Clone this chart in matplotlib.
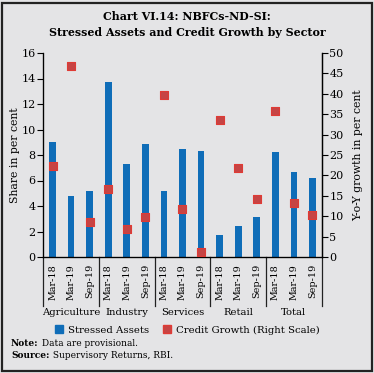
import matplotlib
matplotlib.use("Agg")
import matplotlib.pyplot as plt
from matplotlib.patches import Rectangle
from matplotlib.lines import Line2D
import numpy as np

plt.rcParams['font.family'] = ['DejaVu Serif']

sectors = ["Agriculture", "Industry", "Services", "Retail", "Total"]
periods = ["Mar-18", "Mar-19", "Sep-19"]
stressed_assets = [9.0, 4.8, 5.2, 13.75, 7.3, 8.9, 5.2, 8.45, 8.35, 1.7, 2.45, 3.1, 8.2, 6.7, 6.2]
credit_growth = [22.4, 46.8, 8.6, 16.7, 6.9, 9.7, 39.6, 11.8, 1.3, 33.7, 21.7, 14.3, 35.9, 13.3, 10.2]
left_ticks = [0, 2, 4, 6, 8, 10, 12, 14, 16]
right_ticks = [0, 5, 10, 15, 20, 25, 30, 35, 40, 45, 50]

bg = '#e4e4e6'
bar_color = '#0f6db8'
mk_face = '#c64444'
mk_edge = '#e03a34'

W, H = 374, 373
fig = plt.figure(figsize=(W/100, H/100), dpi=100, facecolor=bg)
fig.patches.append(Rectangle((0.006, 0.006), 0.988, 0.986, transform=fig.transFigure,
                             fill=False, edgecolor='#222222', linewidth=1.6))

ax = fig.add_axes([43.3/W, 1-257/H, (321.7-43.3)/W, 204/H])
ax.set_facecolor(bg)
x = np.arange(len(stressed_assets))
ax.bar(x, stressed_assets, width=0.36, color=bar_color, zorder=2)
ax.set_xlim(-0.5, len(x)-0.5)
ax.set_ylim(0, 16)
ax.set_yticks(left_ticks)
ax.set_xticks(x)
ax.set_xticklabels(periods * len(sectors), rotation=90, fontsize=6.9)
ax.tick_params(axis='x', length=0, pad=5)
ax.tick_params(axis='y', labelsize=8, length=4, width=0.8, pad=1.5)
ax.set_ylabel("Share in per cent", fontsize=7.8, labelpad=1)
ax.spines['top'].set_visible(False)
for s in ['left', 'right', 'bottom']:
    ax.spines[s].set_linewidth(0.9)

ax2 = ax.twinx()
ax2.scatter(x, credit_growth, marker='s', s=30, facecolor=mk_face, edgecolor=mk_edge,
            linewidths=0.8, zorder=3)
ax2.set_ylim(0, 50)
ax2.set_yticks(right_ticks)
ax2.tick_params(axis='y', labelsize=8, length=4, width=0.8, pad=1.5)
ax2.set_ylabel("Y-o-Y growth in per cent", fontsize=7.8, labelpad=7)
ax2.spines['top'].set_visible(False)
ax2.spines['right'].set_linewidth(0.9)

# group separators and labels
trans = matplotlib.transforms.blended_transform_factory(ax.transData, ax.transAxes)
for i in range(len(sectors) + 1):
    xp = i * 3 - 0.5
    ax.add_line(Line2D([xp, xp], [0, -0.24], transform=trans, color='#222222',
                       linewidth=0.9, clip_on=False))
for i, name in enumerate(sectors):
    ax.text(i * 3 + 1, -0.27, name, transform=trans, ha='center', va='center', fontsize=7.2)

# title
fig.text(0.5, 1-17/H, "Chart VI.14: NBFCs-ND-SI:", ha='center', va='center',
         fontsize=7.9, fontweight='bold')
fig.text(0.5, 1-33/H, "Stressed Assets and Credit Growth by Sector", ha='center', va='center',
         fontsize=7.9, fontweight='bold')

# legend
handles = [Line2D([], [], linestyle='none', marker='s', markersize=5.5, markerfacecolor=bar_color,
                  markeredgecolor=bar_color),
           Line2D([], [], linestyle='none', marker='s', markersize=5.5, markerfacecolor=mk_face,
                  markeredgecolor=mk_edge)]
fig.legend(handles, ["Stressed Assets", "Credit Growth (Right Scale)"], loc='center',
           bbox_to_anchor=(0.5, 1-330/H), ncol=2, frameon=False, fontsize=7.3,
           handletextpad=0.4, columnspacing=1.2, handlelength=1.0)

# notes
fig.canvas.draw()
r = fig.canvas.get_renderer()
for ypix, bold, rest in [(343, "Note:", " Data are provisional."),
                         (355, "Source:", " Supervisory Returns, RBI.")]:
    t = fig.text(11/W, 1-ypix/H, bold, fontsize=6.5, fontweight='bold', va='center', ha='left')
    bb = t.get_window_extent(r)
    fig.text(bb.x1/W, 1-ypix/H, rest, fontsize=6.5, va='center', ha='left')

fig.savefig("out.png", dpi=100, facecolor=bg)
